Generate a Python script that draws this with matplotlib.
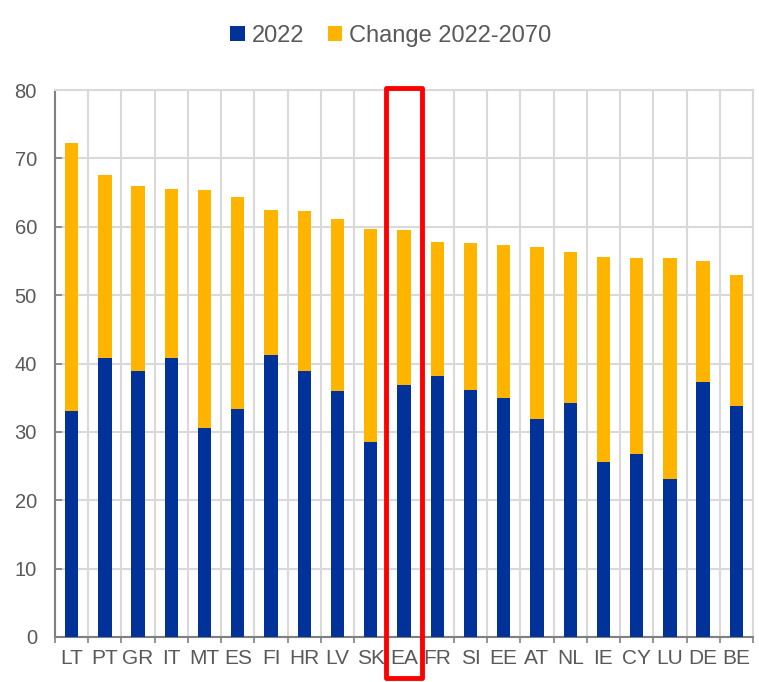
import numpy as np
import matplotlib.pyplot as plt
from matplotlib.patches import Rectangle
from matplotlib.transforms import blended_transform_factory

plt.rcParams['font.family'] = ['Liberation Sans', 'DejaVu Sans']

countries = ['LT', 'PT', 'GR', 'IT', 'MT', 'ES', 'FI', 'HR', 'LV', 'SK', 'EA',
             'FR', 'SI', 'EE', 'AT', 'NL', 'IE', 'CY', 'LU', 'DE', 'BE']
level_2022 = [33.0, 40.8, 38.9, 40.8, 30.6, 33.3, 41.2, 38.9, 36.0, 28.5, 36.8,
              38.2, 36.1, 34.9, 31.9, 34.2, 25.6, 26.8, 23.1, 37.3, 33.8]
total_2070 = [72.2, 67.5, 65.9, 65.5, 65.4, 64.3, 62.4, 62.3, 61.1, 59.6, 59.5,
              57.7, 57.6, 57.3, 57.0, 56.3, 55.6, 55.4, 55.4, 55.0, 52.9]
change = [t - b for t, b in zip(total_2070, level_2022)]
highlight = 'EA'

blue = '#003299'
yellow = '#FFB400'
grid_col = '#d9d9d9'
text_col = '#595959'

fig = plt.figure(figsize=(7.59, 6.82), dpi=100)
ax = fig.add_axes([55 / 759, 45 / 682, 698 / 759, 547 / 682])

x = np.arange(len(countries))
ax.bar(x, level_2022, width=0.4, color=blue, label='2022', zorder=3)
ax.bar(x, change, width=0.4, bottom=level_2022, color=yellow,
       label='Change 2022-2070', zorder=3)

ax.set_xlim(-0.5, len(countries) - 0.5)
ax.set_ylim(0, 80)
ax.set_yticks(range(0, 81, 10))
ax.set_xticks(x)
ax.set_xticklabels(countries)
ax.set_xticks(np.arange(-0.5, len(countries), 1), minor=True)

ax.grid(axis='y', color=grid_col, lw=1.5, zorder=0)
ax.grid(axis='x', which='minor', color=grid_col, lw=1.5, zorder=0)
ax.tick_params(axis='x', which='major', length=0, pad=9, labelsize=15, labelcolor=text_col)
ax.tick_params(axis='x', which='minor', length=4, color='#808080', width=1.2)
ax.tick_params(axis='y', direction='in', length=5, color='#808080', width=1.2,
               labelsize=14.5, labelcolor=text_col, pad=13)

for s in ['top', 'right']:
    ax.spines[s].set_color(grid_col)
    ax.spines[s].set_linewidth(1.5)
for s in ['left', 'bottom']:
    ax.spines[s].set_color('#808080')
    ax.spines[s].set_linewidth(1.5)

# red box around the euro area bar
i = countries.index(highlight)
trans = blended_transform_factory(ax.transData, ax.transAxes)
ax.add_patch(Rectangle((i - 0.55, -0.075), 1.1, 1.079, transform=trans,
                       fill=False, edgecolor='#ff0000', lw=3.5, clip_on=False,
                       zorder=5, joinstyle='round'))

fig.legend(loc='center', bbox_to_anchor=(0.515, 0.947), ncol=2, frameon=False,
           handlelength=0.6, handleheight=0.6, handletextpad=0.3,
           columnspacing=1.0, fontsize=17, labelcolor=text_col)

fig.savefig('out.png', dpi=100)
